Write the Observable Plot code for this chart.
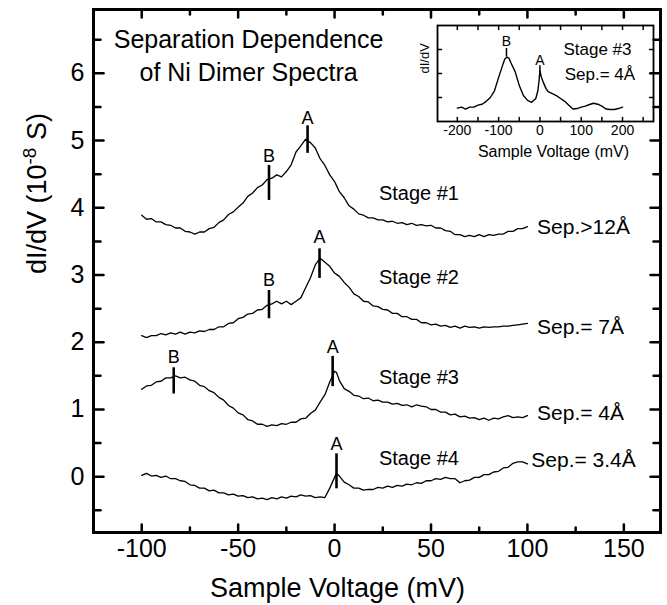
<!DOCTYPE html>
<html><head><meta charset="utf-8">
<script src="https://cdn.jsdelivr.net/npm/d3@7"></script>
<script src="https://cdn.jsdelivr.net/npm/@observablehq/plot@0.6"></script>
<style>
html,body{margin:0;padding:0;background:#fff;}
#wrap{position:relative;width:667px;height:605px;overflow:hidden;background:#fff;}
#wrap svg{position:absolute;}
</style></head><body><div id="wrap"></div>
<script>
// ---- main chart data ----
const voltage = [-100,-97.5,-95,-92.5,-90,-87.5,-85,-82.5,-80,-77.5,
 -75,-72.5,-70,-67.5,-65,-62.5,-60,-57.5,-55,-52.5,
 -50,-47.5,-45,-42.5,-40,-37.5,-35,-32.5,-30,-27.5,
 -25,-22.5,-20,-17.5,-15,-12.5,-10,-7.5,-5,-2.5,
 0,1,2.5,5,7.5,10,12.5,15,17.5,20,
 22.5,25,27.5,30,32.5,35,37.5,40,42.5,45,
 47.5,50,52.5,55,57.5,60,62.5,65,67.5,70,
 72.5,75,77.5,80,82.5,85,87.5,90,92.5,95,
 97.5,100];
const stage1 = [3.89,3.83,3.84,3.79,3.79,3.75,3.74,3.70,3.70,3.65,
 3.64,3.61,3.64,3.64,3.69,3.71,3.78,3.82,3.90,3.94,
 4.01,4.07,4.17,4.22,4.30,4.34,4.42,4.44,4.49,4.46,
 4.54,4.64,4.83,4.92,5.02,4.97,4.89,4.73,4.63,4.49,
 4.39,4.33,4.24,4.15,4.03,3.98,3.91,3.89,3.85,3.85,
 3.82,3.82,3.79,3.80,3.77,3.78,3.75,3.77,3.74,3.75,
 3.73,3.74,3.70,3.70,3.66,3.65,3.60,3.60,3.57,3.59,
 3.57,3.60,3.57,3.60,3.59,3.61,3.61,3.65,3.65,3.69,
 3.69,3.72];
const stage2 = [2.10,2.07,2.10,2.10,2.13,2.11,2.14,2.12,2.15,2.12,
 2.15,2.14,2.17,2.16,2.19,2.19,2.23,2.23,2.28,2.29,
 2.35,2.37,2.42,2.43,2.48,2.49,2.55,2.57,2.61,2.57,
 2.61,2.56,2.61,2.66,2.81,2.96,3.15,3.25,3.19,3.13,
 3.03,3.01,2.98,2.89,2.82,2.72,2.68,2.61,2.60,2.54,
 2.53,2.49,2.48,2.43,2.43,2.38,2.38,2.34,2.34,2.29,
 2.29,2.26,2.27,2.24,2.25,2.22,2.24,2.21,2.24,2.22,
 2.23,2.21,2.23,2.22,2.23,2.23,2.24,2.24,2.25,2.26,
 2.27,2.28];
const stage3 = [1.30,1.35,1.36,1.41,1.42,1.47,1.47,1.50,1.47,1.48,
 1.44,1.42,1.36,1.34,1.28,1.25,1.18,1.14,1.06,1.02,
 0.95,0.92,0.85,0.83,0.78,0.78,0.75,0.77,0.76,0.79,
 0.78,0.81,0.81,0.86,0.87,0.94,0.99,1.11,1.22,1.41,
 1.57,1.55,1.43,1.31,1.27,1.21,1.20,1.16,1.17,1.13,
 1.14,1.11,1.11,1.08,1.09,1.06,1.07,1.04,1.07,1.05,
 1.04,1.00,1.00,0.96,0.96,0.92,0.93,0.89,0.90,0.87,
 0.88,0.85,0.87,0.84,0.87,0.86,0.89,0.91,0.88,0.89,
 0.88,0.91];
const stage4 = [0.02,0.05,0.01,0.02,-0.01,0.01,-0.03,-0.03,-0.06,-0.07,
 -0.12,-0.13,-0.17,-0.17,-0.21,-0.20,-0.24,-0.24,-0.27,-0.26,
 -0.29,-0.28,-0.31,-0.30,-0.33,-0.32,-0.34,-0.31,-0.33,-0.30,
 -0.32,-0.29,-0.30,-0.27,-0.29,-0.28,-0.31,-0.30,-0.31,-0.17,
 -0.01,0.05,0.01,-0.08,-0.12,-0.17,-0.17,-0.20,-0.19,-0.19,
 -0.16,-0.17,-0.14,-0.16,-0.13,-0.14,-0.11,-0.12,-0.09,-0.10,
 -0.06,-0.06,-0.03,-0.04,-0.01,-0.03,-0.03,-0.09,-0.06,-0.05,
 -0.01,-0.01,0.03,0.03,0.07,0.08,0.13,0.14,0.20,0.22,
 0.22,0.19];
const stageNames = ["Stage #1","Stage #2","Stage #3","Stage #4"];
const sepNames = ["Sep.>12Å","Sep.= 7Å","Sep.= 4Å","Sep.= 3.4Å"];
const xMajorTicks = [-100,-50,0,50,100,150];
const xMinorTicks = [-75,-25,25,75,125];
const yMajorTicks = [0,1,2,3,4,5,6];
const yMinorTicks = [-0.5,0.5,1.5,2.5,3.5,4.5,5.5,6.5];
const titleLines = ["Separation Dependence","of Ni Dimer Spectra"];
const xLabelText = "Sample Voltage (mV)";
const yLabelText = "dI/dV (10-8 S)";

// ---- inset data ----
const insetVoltage = [-200,-190,-180,-170,-160,-150,-140,-130,-120,-110,-100,-90,
 -85,-80,-75,-70,-60,-50,-40,-30,-20,-10,-5,-2,0,3,8,15,20,
 30,40,50,60,70,80,90,100,110,120,130,140,150,160,170,180,190,200];
const insetValue = [0.14,0.15,0.13,0.15,0.15,0.17,0.18,0.21,0.25,0.32,0.46,0.59,
 0.65,0.67,0.66,0.61,0.52,0.375,0.27,0.22,0.20,0.24,0.32,0.43,0.53,0.47,0.41,0.34,0.31,
 0.29,0.27,0.24,0.21,0.17,0.13,0.135,0.15,0.16,0.177,0.19,0.18,0.16,0.13,0.125,0.125,0.135,0.15];
const insetXTickLabels = [-200,-100,0,100,200];
const insetXTicks = [-200,-150,-100,-50,0,50,100,150,200,250];
const insetYTicks = [0.25,0.5,0.75];

// ---- annotations (label anchors in data units) ----
const peakMarkers = [
  {label:"B", v:-34,  lo:4.11, hi:4.63, ly:4.77},
  {label:"A", v:-14,  lo:4.81, hi:5.22, ly:5.33},
  {label:"B", v:-34,  lo:2.35, hi:2.77, ly:2.92},
  {label:"A", v:-7.8, lo:2.95, hi:3.39, ly:3.56},
  {label:"B", v:-83.4,lo:1.23, hi:1.62, ly:1.77},
  {label:"A", v:-1,   lo:1.34, hi:1.79, ly:1.93},
  {label:"A", v:1,    lo:-0.18,hi:0.34, ly:0.48}
];
const stageLabelAt = [{v:23,y:4.21},{v:23,y:2.96},{v:23,y:1.47},{v:23,y:0.27}];
const sepLabelAt = [{v:105,y:3.71},{v:105,y:2.22},{v:105,y:0.95},{v:102,y:0.24}];
const titleAt = [{v:-44.6,y:6.50},{v:-44.6,y:6.01}];
const insetMarkers = [
  {label:"B", v:-81, lo:0.67, hi:0.76, ly:0.83},
  {label:"A", v:0,   lo:0.51, hi:0.58, ly:0.635}
];
const insetTexts = [{t:"Stage #3", v:57, y:0.75},{t:"Sep.= 4Å", v:60, y:0.49}];

const FONT = "'Liberation Sans', Arial, Helvetica, sans-serif";
const tickShape = {draw(ctx, l) { ctx.moveTo(0, 0); ctx.lineTo(0, -l); }};

const rows = [stage1, stage2, stage3, stage4].flatMap((vals, s) =>
  voltage.map((v, i) => ({stage: stageNames[s], v, val: vals[i]})));

function edgeTicks(vals, dim, len, sw) {
  const ch = dim === "x" ? {x: d => d} : {y: d => d};
  const sides = dim === "x" ? [["bottom", 0], ["top", 180]] : [["left", 90], ["right", -90]];
  return sides.map(([fa, rot]) => Plot.vector(vals, {...ch, frameAnchor: fa, rotate: rot,
    length: len, anchor: "start", shape: tickShape, stroke: "black", strokeWidth: sw}));
}

const main = Plot.plot({
  width: 667, height: 605,
  marginLeft: 93, marginRight: 7, marginTop: 9, marginBottom: 73,
  style: {fontFamily: FONT, background: "white", color: "black"},
  x: {domain: [-125, 169]},
  y: {domain: [-0.83, 6.95]},
  marks: [
    Plot.axisX({ticks: xMajorTicks, tickSize: 0, tickPadding: 7, fontSize: 25, tickFormat: d => String(d), label: null}),
    Plot.axisY({ticks: yMajorTicks, tickSize: 0, tickPadding: 9, fontSize: 25, tickFormat: d => String(d), label: null}),
    ...edgeTicks(xMajorTicks, "x", 8, 2.5),
    ...edgeTicks(xMinorTicks, "x", 5, 2.5),
    ...edgeTicks(yMajorTicks, "y", 10, 2.5),
    ...edgeTicks(yMinorTicks, "y", 7, 2.5),
    Plot.line(rows, {x: "v", y: "val", z: "stage", stroke: "black", strokeWidth: 1.3}),
    Plot.ruleX(peakMarkers, {x: "v", y1: "lo", y2: "hi", stroke: "black", strokeWidth: 2.6}),
    Plot.text(peakMarkers, {x: "v", y: "ly", text: "label", fontSize: 18}),
    Plot.text(stageLabelAt, {x: "v", y: "y", text: (d, i) => stageNames[i], textAnchor: "start", fontSize: 20}),
    Plot.text(sepLabelAt, {x: "v", y: "y", text: (d, i) => sepNames[i], textAnchor: "start", fontSize: 21}),
    Plot.text(titleAt, {x: "v", y: "y", text: (d, i) => titleLines[i], fontSize: 25}),
    Plot.text([{t: xLabelText, v: 1.5}], {x: "v", text: "t", frameAnchor: "bottom", lineAnchor: "middle", dy: 55.5, fontSize: 27}),
    Plot.text([yLabelText], {text: d => d, frameAnchor: "left", lineAnchor: "middle", rotate: -90, dx: -56, dy: 3, fontSize: 27}),
    Plot.frame({stroke: "black", strokeWidth: 3})
  ]
});
main.style.left = "0px"; main.style.top = "0px";

d3.select(main).selectAll("text").filter(function () { return this.textContent === yLabelText; })
  .each(function () {
    const t = d3.select(this);
    t.text(null);
    t.append("tspan").text("dI/dV (10");
    t.append("tspan").attr("dy", -10).attr("font-size", "0.7em").text("-8");
    t.append("tspan").attr("dy", 10).text(" S)");
  });

const insetRows = insetVoltage.map((v, i) => ({v, val: insetValue[i]}));
const inset = Plot.plot({
  width: 262, height: 150,
  marginLeft: 37, marginRight: 9, marginTop: 10, marginBottom: 44,
  style: {fontFamily: FONT, background: "transparent", color: "black", overflow: "visible"},
  x: {domain: [-248, 275]},
  y: {domain: [0, 1], axis: null},
  marks: [
    Plot.axisX({ticks: insetXTickLabels, tickSize: 0, tickPadding: 4, fontSize: 14, tickFormat: d => String(d), label: null}),
    ...edgeTicks(insetXTicks, "x", 4, 1.5),
    ...edgeTicks(insetYTicks, "y", 4, 1.5),
    Plot.line(insetRows, {x: "v", y: "val", stroke: "black", strokeWidth: 1.4}),
    Plot.ruleX(insetMarkers, {x: "v", y1: "lo", y2: "hi", stroke: "black", strokeWidth: 1.5}),
    Plot.text(insetMarkers, {x: "v", y: "ly", text: "label", fontSize: 14}),
    Plot.text(insetTexts, {x: "v", y: "y", text: "t", textAnchor: "start", fontSize: 17}),
    Plot.text(["Sample Voltage (mV)"], {text: d => d, frameAnchor: "bottom", lineAnchor: "middle", dy: 30, dx: 8, fontSize: 16}),
    Plot.text(["dI/dV"], {text: d => d, frameAnchor: "left", lineAnchor: "middle", rotate: -90, dx: -13, fontSize: 13}),
    Plot.frame({stroke: "black", strokeWidth: 1.8})
  ]
});
inset.style.left = "400px"; inset.style.top = "15px";

const wrap = document.getElementById("wrap");
wrap.appendChild(main);
wrap.appendChild(inset);
</script>
</body></html>
